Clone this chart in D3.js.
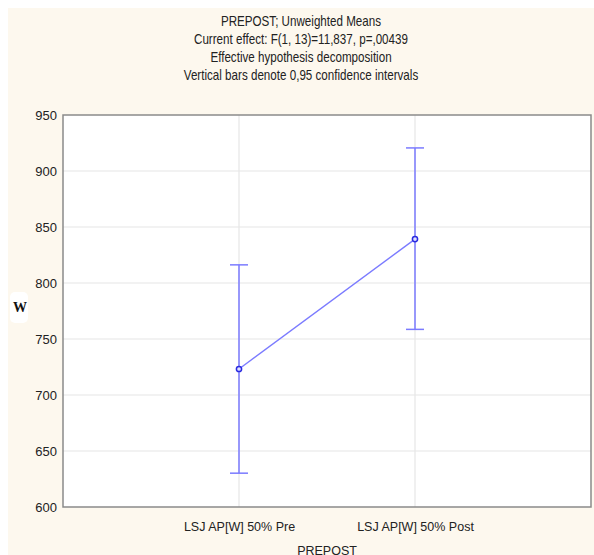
<!DOCTYPE html>
<html><head><meta charset="utf-8">
<script src="https://cdn.jsdelivr.net/npm/d3@7"></script>
<style>html,body{margin:0;padding:0;background:#fff;}svg{display:block;}</style>
</head><body>
<svg id="c" width="594" height="555"></svg>
<script>
const titleLines = ["PREPOST; Unweighted Means","Current effect: F(1, 13)=11,837, p=,00439","Effective hypothesis decomposition","Vertical bars denote 0,95 confidence intervals"];
const categories = ["LSJ AP[W] 50% Pre","LSJ AP[W] 50% Post"];
const means = [723.2, 839.2];
const lowerCI = [630.2, 758.6];
const upperCI = [816.2, 920.6];
const yTicks = [600,650,700,750,800,850,900,950];
const yLabel = "W";
const xLabel = "PREPOST";

const svg = d3.select("#c");
svg.append("rect").attr("x",8).attr("y",8).attr("width",586).attr("height",547).attr("fill","#fdf8ee");
const L=63,R=591,T=115,B=507;
svg.append("rect").attr("x",L).attr("y",T).attr("width",R-L).attr("height",B-T).attr("fill","#fff");

const y = d3.scaleLinear().domain([600,950]).range([B,T]);
const x = d3.scaleLinear().domain([0,categories.length+1]).range([L,R]);

// grid
svg.append("g").selectAll("line").data(yTicks.slice(1,-1)).join("line")
  .attr("x1",L).attr("x2",R).attr("y1",d=>y(d)).attr("y2",d=>y(d))
  .attr("stroke","#e6e6e6").attr("stroke-width",1.2);
svg.append("g").selectAll("line").data(categories).join("line")
  .attr("x1",(d,i)=>x(i+1)).attr("x2",(d,i)=>x(i+1)).attr("y1",T).attr("y2",B)
  .attr("stroke","#e6e6e6").attr("stroke-width",1.2);

// axes
const yAxis = d3.axisLeft(y).tickValues(yTicks).tickSize(0).tickPadding(6);
const gy = svg.append("g").attr("transform",`translate(${L},0)`).call(yAxis);
gy.select(".domain").remove();
gy.selectAll("text").attr("font-family","Liberation Sans, Arial, sans-serif").attr("font-size",13).attr("fill","#222");

const xAxis = d3.axisBottom(x).tickValues(categories.map((d,i)=>i+1)).tickFormat((d)=>categories[d-1]).tickSize(0).tickPadding(15);
const gx = svg.append("g").attr("transform",`translate(0,${B})`).call(xAxis);
gx.select(".domain").remove();
gx.selectAll("text").attr("font-family","Liberation Sans, Arial, sans-serif").attr("font-size",12.5).attr("fill","#222");

// border
svg.append("rect").attr("x",L).attr("y",T).attr("width",R-L).attr("height",B-T)
  .attr("fill","none").attr("stroke","#8a8a8a").attr("stroke-width",1.5);

// titles (condensed like the reference)
svg.append("g").attr("transform","translate(301,0) scale(0.83,1)")
  .selectAll("text").data(titleLines).join("text")
  .attr("x",0).attr("y",(d,i)=>26+i*18).attr("text-anchor","middle")
  .attr("font-family","Liberation Sans, Arial, sans-serif").attr("font-size",14).attr("fill","#222")
  .text(d=>d);

// y label
svg.append("rect").attr("x",10).attr("y",292).attr("width",18).attr("height",31).attr("rx",5).attr("fill","#fff");
svg.append("text").attr("x",20).attr("y",312).attr("text-anchor","middle")
  .attr("font-family","Liberation Serif, Times New Roman, serif").attr("font-weight","bold").attr("font-size",14).attr("fill","#111")
  .text(yLabel);
// x label (cut by the bottom edge, as in the reference)
svg.append("text").attr("x",(L+R)/2).attr("y",555).attr("text-anchor","middle")
  .attr("font-family","Liberation Sans, Arial, sans-serif").attr("font-size",12.5).attr("fill","#222")
  .text(xLabel);

const col = "#7b7bff";
const data = categories.map((c,i)=>({i, m:means[i], lo:lowerCI[i], hi:upperCI[i]}));
const g = svg.append("g");
g.selectAll(".eb").data(data).join("line").attr("x1",d=>x(d.i+1)).attr("x2",d=>x(d.i+1))
  .attr("y1",d=>y(d.lo)).attr("y2",d=>y(d.hi)).attr("stroke",col).attr("stroke-width",1.5);
["lo","hi"].forEach(k=>{
  g.selectAll(".cap"+k).data(data).join("line").attr("x1",d=>x(d.i+1)-9).attr("x2",d=>x(d.i+1)+9)
    .attr("y1",d=>y(d[k])).attr("y2",d=>y(d[k])).attr("stroke",col).attr("stroke-width",1.5);
});
g.append("path").datum(data).attr("d",d3.line().x(d=>x(d.i+1)).y(d=>y(d.m)))
  .attr("fill","none").attr("stroke",col).attr("stroke-width",1.4);
g.selectAll("circle").data(data).join("circle").attr("cx",d=>x(d.i+1)).attr("cy",d=>y(d.m)).attr("r",2.6)
  .attr("fill","#dfe0ff").attr("stroke","#2a2ae0").attr("stroke-width",1.5);
</script>
</body></html>
